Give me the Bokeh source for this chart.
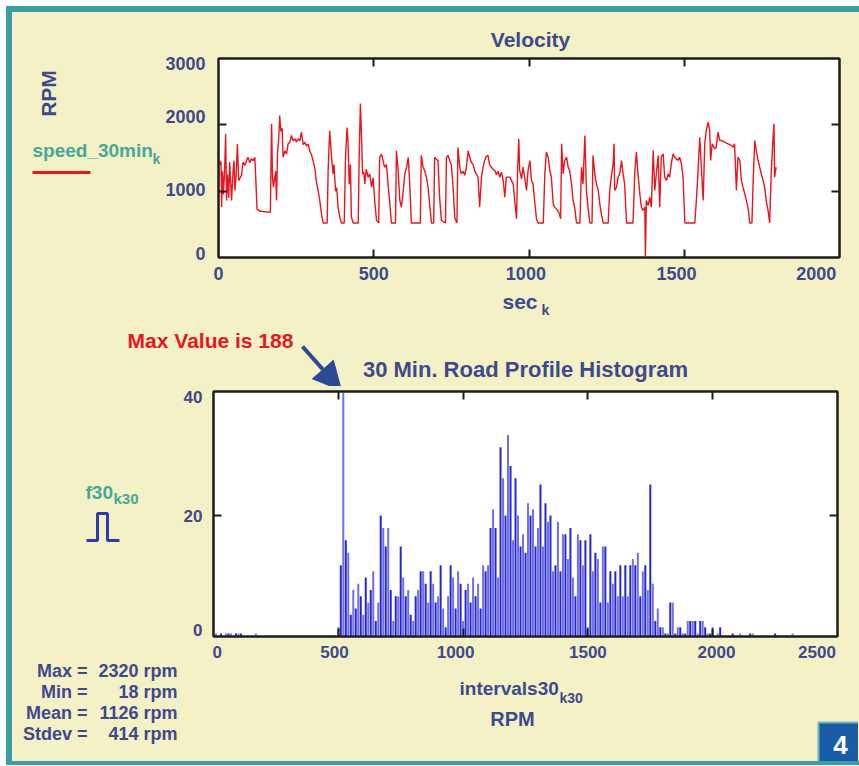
import math
from bokeh.plotting import figure
from bokeh.models import (Range1d, LinearAxis, FixedTicker, Arrow, NormalHead, ColumnDataSource)
from bokeh.layouts import column, row
from bokeh.embed import file_html
from bokeh.resources import INLINE
from bokeh.core.properties import value

# ---------------- data ----------------
vel_t = [0, 1, 4, 8, 10, 13, 16, 20, 23, 26, 29, 33, 36, 42, 47, 50, 53, 57, 61, 65,
         74, 79, 85, 90, 95, 101, 106, 112, 117, 120, 124, 133, 149, 167, 171, 174, 177,
         184, 187, 190, 194, 197, 201, 205, 208, 214, 219, 224, 230, 235, 240, 246, 251,
         256, 262, 267, 273, 278, 283, 289, 294, 299, 305, 310, 315, 321, 326, 332, 337,
         350, 353, 358, 364, 369, 372, 377, 381, 385, 391, 396, 405, 409, 414, 417, 421,
         425, 428, 434, 450, 453, 457, 460, 464, 468, 471, 476, 482, 487, 493, 498, 503,
         509, 516, 519, 525, 530, 535, 541, 546, 552, 557, 570, 573, 578, 584, 589, 594,
         600, 606, 611, 616, 621, 650, 653, 659, 664, 670, 675, 680, 686, 693, 696, 702,
         707, 712, 718, 731, 734, 739, 745, 750, 755, 761, 768, 771, 777, 782, 788, 793,
         798, 804, 809, 814, 820, 825, 830, 836, 841, 847, 852, 857, 862, 868, 873, 879,
         884, 890, 895, 900, 906,
         911, 917, 922, 927, 938, 949, 954, 960, 963, 967, 970, 976, 981, 986, 992, 997,
         1003, 1008, 1013, 1019, 1024, 1029, 1046, 1051, 1056, 1062, 1067, 1072, 1078,
         1083, 1088, 1096, 1102, 1105, 1110, 1115, 1121, 1126, 1131, 1137, 1142, 1147,
         1153, 1164, 1169, 1174, 1180, 1185, 1190, 1196, 1203, 1206, 1212, 1217, 1223,
         1228, 1233, 1239, 1255, 1260, 1265, 1271, 1274, 1276, 1282, 1287, 1292, 1298,
         1303, 1308, 1314, 1335, 1341, 1346, 1351, 1357, 1362, 1367, 1373, 1375, 1378,
         1384, 1389, 1394, 1400, 1405, 1410, 1416, 1421, 1426, 1432, 1437, 1443, 1448,
         1453, 1459, 1464, 1469, 1480, 1485, 1491, 1496, 1502, 1534, 1539, 1544, 1550,
         1555, 1561, 1566, 1571, 1577, 1582, 1585, 1590, 1598, 1603, 1609, 1614, 1620,
         1630, 1641, 1652, 1657, 1662, 1668, 1673, 1679, 1684, 1689, 1695, 1705, 1711,
         1718, 1722, 1727, 1732, 1738, 1743, 1748, 1754, 1759, 1764, 1770, 1775, 1780,
         1786, 1789, 1791, 1796]
vel_rpm = [0, 1500, 1400, 1450, 760, 1300, 950, 1350, 1860, 860, 1250, 900, 1440, 860,
           1300, 1460, 1010, 1250, 1710, 1160, 1240, 1440, 1390, 1460, 1510, 1430, 1490,
           1460, 1510, 1200, 730, 700, 690, 680, 2015, 1200, 1060, 1300, 860, 1560, 1800,
           2140, 1900, 1950, 1510, 1610, 1560, 1710, 1740, 1840, 1760, 1790, 1740, 1790,
           1760, 1890, 1700, 1740, 1680, 1710, 1600, 1560, 1450, 1350, 1150, 1010, 860,
           650, 520, 520, 1300, 1910, 1520, 1260, 1400, 1000, 1050, 760, 600, 520, 520,
           1500, 1960, 1760, 1100, 1400, 610, 520, 520, 1500, 2320, 1910, 1260, 1290, 1110,
           1330, 1210, 1260, 1060, 1200, 860, 560, 520, 1510, 1560, 1460, 1360, 1400, 1110,
           800, 520, 520, 1610, 1360, 860, 760, 960, 1260, 1360, 1510, 1110, 520, 520, 1540,
           1360, 1310, 1200, 1060, 800, 520, 520, 1510, 1480, 1460, 910, 560, 520, 1510,
           1540, 1460, 1390, 1100, 600, 520, 1660, 1360, 1260, 1300, 1240, 1350, 1610, 1510,
           1440, 1400, 1310, 1260, 1210, 760, 1210, 1360, 1460, 1520, 1540, 1400, 1360, 1330,
           1310, 1250, 1300, 1210,
           1286, 1161, 909, 1211, 1211, 1110, 859, 583, 1261, 1789, 1312, 1186, 1362, 1211,
           1010, 1312, 1462, 1161, 1110, 809, 583, 520, 520, 1261, 1588, 1513, 1312, 1211,
           809, 759, 733, 683, 583, 1714, 1261, 1462, 1513, 1362, 1312, 1110, 859, 759, 520,
           520, 1362, 1110, 1839, 1010, 759, 520, 520, 1538, 1261, 1110, 1010, 809, 658, 520,
           520, 1010, 1211, 1412, 1714, 1010, 1060, 1211, 1261, 1462, 1261, 1110, 520, 520,
           1312, 1588, 1261, 960, 759, 708, 759, 18, 859, 784, 909, 759, 1613, 1010, 1261,
           1538, 759, 1513, 1563, 1211, 1161, 1261, 1211, 1437, 1563, 1513, 1462, 1513, 1412,
           1211, 520, 520, 859, 1261, 1814, 1362, 859, 1714, 1915, 2040, 1915, 1462, 1714,
           1638, 1663, 1890, 1764, 1764, 1739, 1714, 1689, 1663, 1714, 1010, 1513, 1462, 1161,
           1060, 960, 759, 520, 520, 1161, 1764, 1613, 1462, 1362, 1261, 1161, 1060, 859, 708,
           520, 1261, 1814, 2015, 1211, 1362]

x_ticks_top = [0, 500, 1000, 1500, 2000]
y_ticks_top = [0, 1000, 2000, 3000]

bin_width = 10
main_first_rpm = 500
main_counts = [2, 12, 188, 16, 14, 4, 8, 5, 9, 7, 4, 10, 6, 8, 11, 3, 6, 20, 18, 15,
               18, 8, 3, 7, 7, 15, 10, 7, 8, 4, 3, 7, 8, 11, 11, 9, 6, 11, 9, 6,
               7, 12, 5, 2, 7, 12, 10, 5, 11, 9, 3, 8, 9, 6, 10, 7, 9,
               5, 12, 11, 12, 18, 21, 18, 10, 31, 26, 20, 33, 28, 16, 26, 20, 15, 17, 14, 22,
               20, 21, 15, 18, 25, 15, 22, 19, 20, 11, 12, 19, 11, 17, 17, 13, 18, 10, 7, 17,
               16, 12, 16, 2, 17, 11, 14, 13, 6, 15, 15, 6, 11, 9, 11, 7, 12, 7, 12, 7,
               12, 13, 12, 14, 7, 11, 12, 8, 25,
               9, 3, 5, 2, 2, 1, 1, 6, 6, 1, 2, 2, 1, 1, 3, 3, 3, 3, 1, 3, 3, 2, 1, 1, 2, 0, 1, 2]
sparse_rpm = [10, 30, 50, 60, 70, 90, 100, 110, 170, 2080, 2110, 2150, 2160, 2250, 2320]
sparse_counts = [1, 1, 1, 1, 1, 1, 1, 1, 1, 1, 1, 1, 1, 1, 1]

x_ticks_hist = [0, 500, 1000, 1500, 2000, 2500]
y_ticks_hist = [0, 20, 40]

stats_names = ["Max =", "Min =", "Mean =", "Stdev ="]
stats_values = ["2320 rpm", "18 rpm", "1126 rpm", "414 rpm"]

# ---------------- styles ----------------
CREAM = "#f4f1c6"
TEAL = "#3b9ea6"
NAVY = "#3d4a8c"
TEALTXT = "#45a89b"
RED = "#e8161e"
FRAME = "#1c1c1c"
FONT = "Liberation Sans"


def style_axis(ax, ticks, overrides, minor, size=18, standoff=10, labels=True):
    ax.ticker = FixedTicker(ticks=ticks, minor_ticks=minor)
    ax.major_label_overrides = overrides
    ax.major_tick_in = 0
    ax.major_tick_out = 0
    ax.minor_tick_in = 8
    ax.minor_tick_out = 0
    ax.minor_tick_line_color = FRAME
    ax.minor_tick_line_width = 2
    ax.axis_line_color = FRAME
    ax.axis_line_width = 2
    ax.major_label_text_font = FONT
    ax.major_label_text_font_style = "bold"
    ax.major_label_text_color = NAVY
    if labels:
        ax.major_label_text_font_size = f"{size}px"
        ax.major_label_standoff = standoff
    else:
        ax.major_label_text_font_size = "0px"
        ax.major_label_standoff = 0


def text_fig(x0, x1, y0, y1, w, h):
    """A blank panel whose data units are the page pixels of the picture
    (x0..x1, y0..y1 is the span of its plotting frame)."""
    p = figure(width=w, height=h, x_range=Range1d(x0, x1), y_range=Range1d(y1, y0),
               x_axis_location=None, y_axis_location=None, min_border=0,
               output_backend="svg", toolbar_location=None,
               background_fill_color=CREAM, border_fill_color=CREAM)
    p.outline_line_color = None
    p.grid.visible = False
    return p


def txt(p, x, y, s, size, color, align="left", angle=0.0):
    # y is the vertical middle of the text
    p.text(x=[x], y=[y], text=[s], text_font=value(FONT), text_font_size=value(f"{size}px"),
           text_font_style=value("bold"), text_color=color, text_align=align,
           text_baseline="middle", angle=angle)


# ---------------- strip above the velocity chart ----------------
s1 = text_fig(12, 858, 12, 52, 846, 40)
txt(s1, 530, 38.5, "Velocity", 21, NAVY, align="center")

# ---------------- left of velocity chart (its frame is aligned with the chart's) ----------------
la = text_fig(12, 162, 58, 257, 150, 235)
txt(la, 48, 93, "RPM", 21, NAVY, align="center", angle=math.pi / 2)
txt(la, 32, 150, "speed_30min", 19, TEALTXT)
txt(la, 152, 158, "k", 14, TEALTXT)
la.line([32, 90], [172, 172], line_color=RED, line_width=3)

# ---------------- velocity chart ----------------
top = figure(frame_width=621, frame_height=199, min_border_left=55, min_border_right=20,
             min_border_top=6, min_border_bottom=30,
             x_range=Range1d(0, 2000), y_range=Range1d(0, 3000),
             output_backend="svg", toolbar_location=None,
             background_fill_color="white", border_fill_color=CREAM)
top.grid.visible = False
top.outline_line_color = FRAME
top.outline_line_width = 2
style_axis(top.xaxis[0], [0, 500, 990, 1475, 1925],
           {0: "0", 500: "500", 990: "1000", 1475: "1500", 1925: "2000"},
           x_ticks_top[1:-1], size=18, standoff=9)
style_axis(top.yaxis[0], [60, 1030, 2120, 2930],
           {60: "0", 1030: "1000", 2120: "2000", 2930: "3000"},
           y_ticks_top[1:-1], size=18, standoff=13)
ax_r = LinearAxis()
style_axis(ax_r, [], {}, y_ticks_top[1:-1], labels=False)
top.add_layout(ax_r, "right")
ax_t = LinearAxis()
style_axis(ax_t, [], {}, x_ticks_top[1:-1], labels=False)
top.add_layout(ax_t, "above")
top.line(vel_t, vel_rpm, line_color=RED, line_width=1.4)

# ---------------- strip below the velocity chart ----------------
s2 = text_fig(12, 858, 287, 325, 846, 38)
txt(s2, 502, 301, "sec", 21, NAVY)
txt(s2, 541, 309, "k", 14, NAVY)

# ---------------- strip above the histogram ----------------
s3 = text_fig(12, 858, 325, 386, 846, 61)
txt(s3, 210, 340, "Max Value is 188", 21, RED, align="center")
txt(s3, 525, 369, "30 Min. Road Profile Histogram", 22, NAVY, align="center")
s3.add_layout(Arrow(end=NormalHead(size=28, fill_color="#2b4a94", line_color="#2b4a94"),
                    x_start=302, y_start=346, x_end=341, y_end=390,
                    line_color="#2b4a94", line_width=4))

# ---------------- left of histogram, full height down to the bottom ----------------
lb = text_fig(12, 178, 386, 761, 166, 375)
txt(lb, 85, 492, "f30", 19, TEALTXT)
txt(lb, 113, 498, "k30", 15, TEALTXT)
lb.line([86, 97, 97, 107, 107, 119], [540, 540, 513, 513, 540, 540],
        line_color="#2d3cb0", line_width=3)
for i, (nm, vl) in enumerate(zip(stats_names, stats_values)):
    ym = 670 + 21 * i
    txt(lb, 87, ym, nm, 18, NAVY, align="right")
    txt(lb, 177, ym, vl, 18, NAVY, align="right")

# ---------------- histogram ----------------
hist_x = [main_first_rpm + bin_width * i for i in range(len(main_counts))] + sparse_rpm
hist_c = main_counts + sparse_counts
bar_cols = ["#7070ea" if i % 2 == 0 else "#2626d0" for i in range(len(hist_x))]
src = ColumnDataSource(dict(x=hist_x, top=hist_c, color=bar_cols))

bot = figure(frame_width=624, frame_height=245, min_border_left=35, min_border_right=21,
             min_border_top=5, min_border_bottom=29,
             x_range=Range1d(0, 2500), y_range=Range1d(0.5, 40),
             output_backend="svg", toolbar_location=None,
             background_fill_color="white", border_fill_color=CREAM)
bot.grid.visible = False
bot.outline_line_color = FRAME
bot.outline_line_width = 2
style_axis(bot.xaxis[0], [15, 485, 970, 1500, 2015, 2418],
           {15: "0", 485: "500", 970: "1000", 1500: "1500", 2015: "2000", 2418: "2500"},
           x_ticks_hist[1:-1], size=17, standoff=9)
style_axis(bot.yaxis[0], [1.5, 20, 39.1], {1.5: "0", 20: "20", 39.1: "40"},
           y_ticks_hist[1:-1], size=17, standoff=11)
bx_r = LinearAxis()
style_axis(bx_r, [], {}, y_ticks_hist[1:-1], labels=False)
bot.add_layout(bx_r, "right")
bx_t = LinearAxis()
style_axis(bx_t, [], {}, x_ticks_hist[1:-1], labels=False)
bot.add_layout(bx_t, "above")
bot.vbar(x="x", top="top", bottom=0, width=8, source=src, fill_color="color",
         line_color=None)

# ---------------- strip below the histogram ----------------
s4 = text_fig(178, 858, 665, 761, 680, 96)
txt(s4, 459, 688, "intervals30", 19, NAVY)
txt(s4, 559, 697, "k30", 14, NAVY)
txt(s4, 512, 718, "RPM", 20, NAVY, align="center")
s4.quad(left=[818], right=[860], top=[722], bottom=[765], fill_color="#1a5ca6",
        line_color="#6fb8bc", line_width=2)
txt(s4, 840, 744, "4", 26, "white", align="center")

inner = column(s1, row(la, top), s2, s3, row(lb, column(bot, row(s4))),
               styles={"background-color": CREAM})
framed = column(inner, styles={"background-color": TEAL, "padding": "6px 0px 4px 6px"})
page = column(framed, styles={"background-color": "white", "padding": "6px 0px 0px 6px"})

open("out.html", "w").write(file_html(page, INLINE))
